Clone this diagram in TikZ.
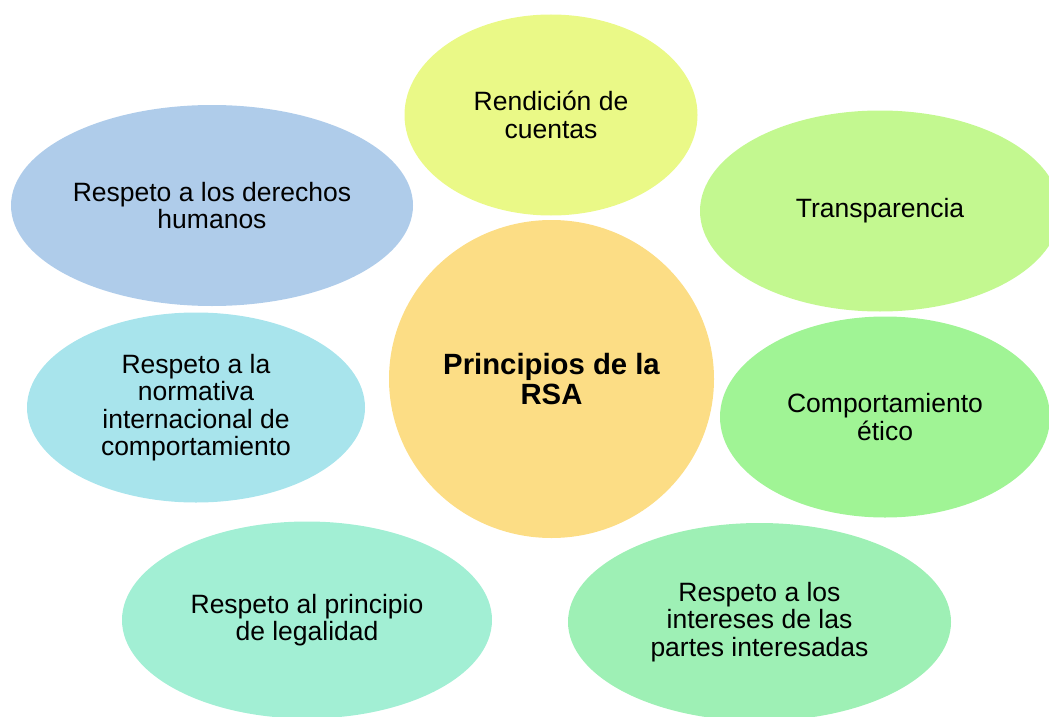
\documentclass[tikz,border=0pt]{standalone}
\usepackage{fontspec}
\setmainfont{Liberation Sans}
\usetikzlibrary{shapes.geometric}
\definecolor{cCenter}{HTML}{FCDD85}
\definecolor{cTop}{HTML}{EAF987}
\definecolor{cTrans}{HTML}{C3F890}
\definecolor{cComp}{HTML}{A0F495}
\definecolor{cInt}{HTML}{9EF0B5}
\definecolor{cLeg}{HTML}{A2EFD4}
\definecolor{cNorm}{HTML}{A8E4EC}
\definecolor{cDer}{HTML}{AFCCEA}
\tikzset{
  petal/.style={ellipse, inner sep=0pt, align=center, text=black,
    font=\fontsize{26.5}{27.5}\selectfont},
}
\begin{document}
\begin{tikzpicture}[x=1pt,y=-1pt]
\useasboundingbox (0,0) rectangle (1049,717);
\node[petal, fill=cCenter, minimum width=325pt, minimum height=318pt,
  font=\fontsize{29.3}{30}\selectfont\bfseries] (center) at (551.5,379) {Principios de la\\RSA};
\node[petal, fill=cTop, minimum width=293pt, minimum height=201pt] (top) at (551,115) {Rendición de\\cuentas};
\node[petal, fill=cTrans, minimum width=360pt, minimum height=201pt] (trans) at (880,211) {Transparencia};
\node[petal, fill=cComp, minimum width=330pt, minimum height=201pt] (comp) at (885,417) {Comportamiento\\ético};
\node[petal, fill=cInt, minimum width=383pt, minimum height=198pt] (int) at (759.5,622) {Respeto a los\\intereses de las\\partes interesadas};
\node[petal, fill=cLeg, minimum width=370pt, minimum height=197pt] (leg) at (307,620) {Respeto al principio\\de legalidad};
\node[petal, fill=cNorm, minimum width=338pt, minimum height=190pt] (norm) at (196,407.5) {Respeto a la\\normativa\\internacional de\\comportamiento};
\node[petal, fill=cDer, minimum width=402pt, minimum height=201pt] (der) at (212,205.5) {Respeto a los derechos\\humanos};
\end{tikzpicture}
\end{document}
